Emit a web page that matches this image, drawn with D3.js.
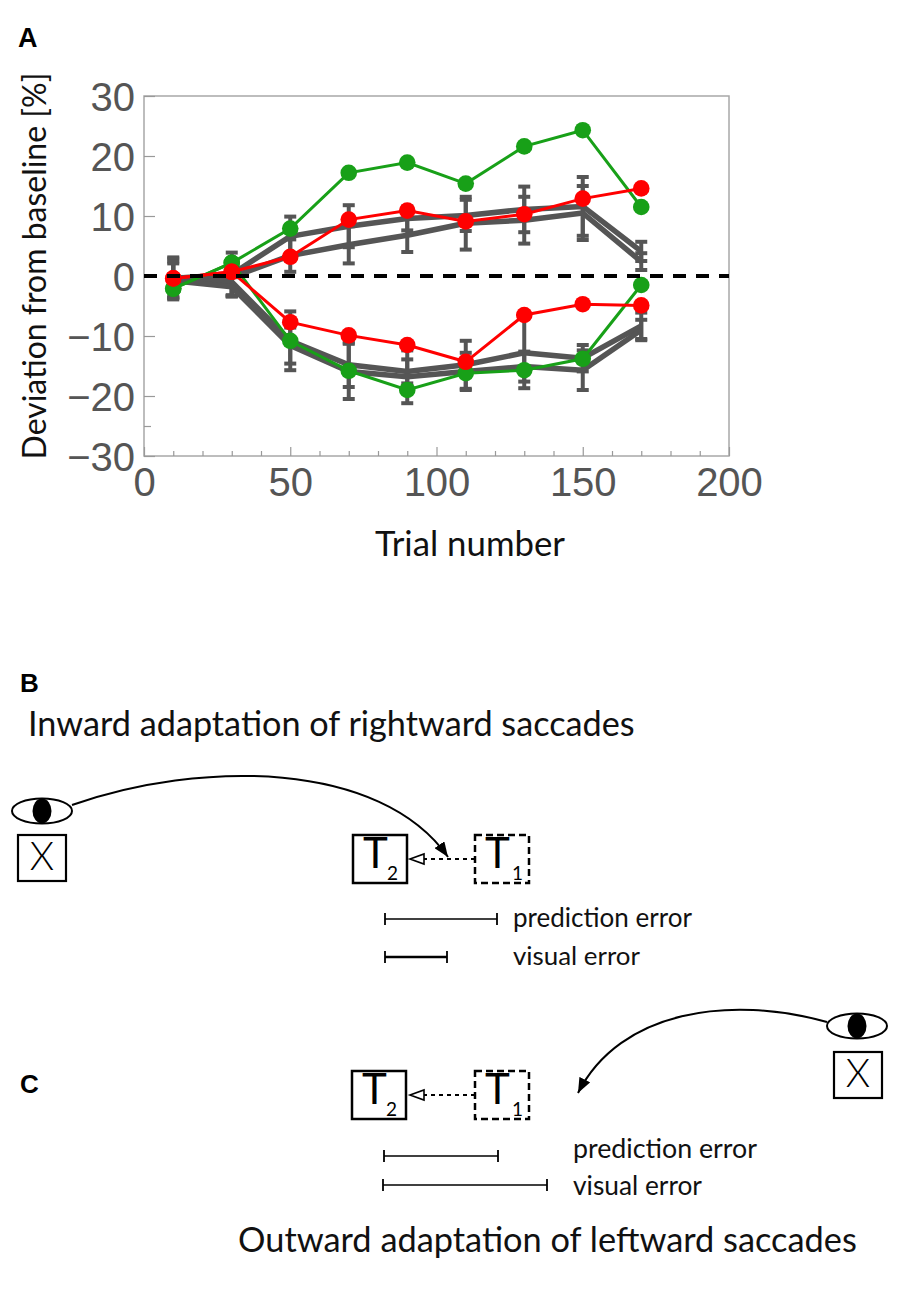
<!DOCTYPE html>
<html>
<head>
<meta charset="utf-8">
<script src="https://d3js.org/d3.v7.min.js"></script>
<style>
  body { margin: 0; background: #fff; }
</style>
</head>
<body>
<script>
    // trial bins (x) and the six curves
    let trials = [10, 30, 50, 70, 90, 110, 130, 150, 170];

    let greenUp   = [-2.1, 2.2, 7.9, 17.2, 18.9, 15.4, 21.6, 24.3, 11.5];
    let greenDown = [-2.1, 2.2, -10.8, -15.8, -19.0, -16.2, -15.7, -13.8, -1.5];
    let redUp     = [-0.4, 0.7, 3.2, 9.4, 10.9, 9.1, 10.3, 12.9, 14.6];
    let redDown   = [-0.4, 0.7, -7.7, -9.9, -11.5, -14.3, -6.5, -4.7, -4.9];

    // gray model curves with their error bars
    let grayUpA      = [-0.4, 0.3, 6.6, 8.3, 9.6, 10.1, 11.1, 11.6, 4.1];
    let grayUpAErr   = [3.5, 3.6, 3.3, 3.5, 2.0, 2.6, 3.8, 4.9, 1.6];
    let grayUpB      = [-0.3, -0.2, 3.4, 5.2, 6.8, 8.8, 9.3, 10.5, 2.4];
    let grayUpBErr   = [3.2, 3.0, 2.7, 3.1, 2.8, 4.4, 3.9, 4.5, 1.4];
    let grayDownA    = [-0.6, -1.0, -10.8, -14.8, -15.9, -14.8, -12.8, -13.7, -8.3];
    let grayDownAErr = [3.0, 2.4, 4.9, 3.7, 2.0, 4.0, 5.9, 2.2, 2.2];
    let grayDownB    = [-0.8, -1.8, -11.6, -15.9, -16.8, -15.9, -15.1, -15.7, -9.0];
    let grayDownBErr = [2.9, 1.6, 3.0, 4.6, 4.4, 3.1, 2.5, 3.3, 1.7];

    let xTicks = [0, 50, 100, 150, 200];
    let xMinor = [10, 20, 30, 40, 60, 70, 80, 90, 110, 120, 130, 140, 160, 170, 180, 190];
    let yTicks = [-30, -20, -10, 0, 10, 20, 30];
    let yMinor = [-25];

    let width = 901, height = 1300;
    let svg = d3.select("body").append("svg")
        .attr("width", width)
        .attr("height", height);

    let humanist = "Lato, 'Open Sans', sans-serif";

    function fitWidth(sel, w) {
        let len = sel.node().getComputedTextLength();
        let fs = parseFloat(sel.attr("font-size"));
        sel.attr("font-size", fs * w / len);
    }

    // ---------- panel A ----------
    let x = d3.scaleLinear().domain([0, 200]).range([144, 729]);
    let y = d3.scaleLinear().domain([-30, 30]).range([456, 96]);

    svg.append("text").attr("x", 18).attr("y", 47)
        .attr("font-family", "'Liberation Sans', Arial, sans-serif")
        .attr("font-weight", "bold").attr("font-size", 27).text("A");

    svg.append("rect")
        .attr("x", x(0)).attr("y", y(30))
        .attr("width", x(200) - x(0)).attr("height", y(-30) - y(30))
        .attr("fill", "none").attr("stroke", "#a8a8a8").attr("stroke-width", 1.5);

    let tickFmt = d => d < 0 ? "\u2212" + Math.abs(d) : String(d);

    let xAxis = svg.append("g").attr("transform", `translate(0,${y(-30)})`)
        .call(d3.axisBottom(x).tickValues(xTicks).tickSize(-9).tickPadding(12).tickFormat(tickFmt));
    let xAxisMinor = svg.append("g").attr("transform", `translate(0,${y(-30)})`)
        .call(d3.axisBottom(x).tickValues(xMinor).tickSize(-5).tickFormat(""));
    let yAxis = svg.append("g").attr("transform", `translate(${x(0)},0)`)
        .call(d3.axisLeft(y).tickValues(yTicks).tickSize(-11).tickPadding(9).tickFormat(tickFmt));
    let yAxisMinor = svg.append("g").attr("transform", `translate(${x(0)},0)`)
        .call(d3.axisLeft(y).tickValues(yMinor).tickSize(-7).tickFormat(""));

    [xAxis, xAxisMinor, yAxis, yAxisMinor].forEach(g => {
        g.select(".domain").remove();
        g.selectAll(".tick line").attr("stroke", "#999").attr("stroke-width", 1.2);
        g.selectAll(".tick text")
            .attr("font-family", "'Liberation Sans', Arial, sans-serif")
            .attr("font-size", 40).attr("fill", "#555");
    });
    yAxis.selectAll(".tick text").attr("dy", "0.36em");

    let yTitle = svg.append("text")
        .attr("transform", "translate(46,266) rotate(-90)")
        .attr("text-anchor", "middle")
        .attr("font-family", humanist).attr("font-size", 32).attr("fill", "#111")
        .text("Deviation from baseline [%]");
    fitWidth(yTitle, 387);

    let xTitle = svg.append("text")
        .attr("x", 470).attr("y", 556)
        .attr("text-anchor", "middle")
        .attr("font-family", humanist).attr("font-size", 32).attr("fill", "#111")
        .text("Trial number");
    fitWidth(xTitle, 190);

    let line = d3.line().x((d, i) => x(trials[i])).y(d => y(d));

    // gray curves with error bars
    let grays = [
        [grayUpA, grayUpAErr], [grayUpB, grayUpBErr],
        [grayDownA, grayDownAErr], [grayDownB, grayDownBErr]
    ];
    let gray = "#555555";
    grays.forEach(([vals, errs]) => {
        let g = svg.append("g");
        vals.forEach((v, i) => {
            let cx = x(trials[i]);
            g.append("line")
                .attr("x1", cx).attr("x2", cx)
                .attr("y1", y(v - errs[i])).attr("y2", y(v + errs[i]))
                .attr("stroke", gray).attr("stroke-width", 4);
            [v - errs[i], v + errs[i]].forEach(e => {
                g.append("line")
                    .attr("x1", cx - 6).attr("x2", cx + 6)
                    .attr("y1", y(e)).attr("y2", y(e))
                    .attr("stroke", gray).attr("stroke-width", 4);
            });
        });
    });
    grays.forEach(([vals]) => {
        svg.append("path").datum(vals)
            .attr("d", line)
            .attr("fill", "none").attr("stroke", gray)
            .attr("stroke-width", 5.5).attr("stroke-linejoin", "round");
    });

    // green then red, each line with round markers
    let colored = [
        [greenUp, "#18a018"], [greenDown, "#18a018"],
        [redUp, "#ff0000"], [redDown, "#ff0000"]
    ];
    colored.forEach(([vals, col]) => {
        svg.append("path").datum(vals)
            .attr("d", line)
            .attr("fill", "none").attr("stroke", col)
            .attr("stroke-width", 3);
        svg.append("g").selectAll("circle")
            .data(vals)
            .join("circle")
            .attr("cx", (d, i) => x(trials[i]))
            .attr("cy", d => y(d))
            .attr("r", 8.3)
            .attr("fill", col);
    });

    // baseline
    svg.append("line")
        .attr("x1", x(0)).attr("x2", x(200))
        .attr("y1", y(0)).attr("y2", y(0))
        .attr("stroke", "#000").attr("stroke-width", 4)
        .attr("stroke-dasharray", "13,10");

    // ---------- panels B and C (schematics) ----------
    let defs = svg.append("defs");
    defs.append("marker")
        .attr("id", "solidHead")
        .attr("markerUnits", "userSpaceOnUse")
        .attr("markerWidth", 16).attr("markerHeight", 12)
        .attr("refX", 15).attr("refY", 6)
        .attr("orient", "auto")
        .append("path").attr("d", "M0,0 L15,6 L0,12 Z").attr("fill", "#000");

    function eye(cx, cy) {
        svg.append("ellipse").attr("cx", cx).attr("cy", cy).attr("rx", 30).attr("ry", 12.5)
            .attr("fill", "#fff").attr("stroke", "#000").attr("stroke-width", 2);
        svg.append("ellipse").attr("cx", cx).attr("cy", cy).attr("rx", 9.5).attr("ry", 12.5)
            .attr("fill", "#000");
    }

    function xBox(bx, by) {
        svg.append("rect").attr("x", bx).attr("y", by).attr("width", 48).attr("height", 46)
            .attr("fill", "#fff").attr("stroke", "#000").attr("stroke-width", 2.2);
        svg.append("text").attr("x", bx + 24).attr("y", by + 35)
            .attr("text-anchor", "middle")
            .attr("font-family", humanist).attr("font-weight", 300)
            .attr("font-size", 39).attr("fill", "#000").text("X");
    }

    function tBox(bx, by, sub, dashed) {
        svg.append("rect").attr("x", bx).attr("y", by).attr("width", 54).attr("height", 48)
            .attr("fill", "none").attr("stroke", "#000").attr("stroke-width", 2.5)
            .attr("stroke-dasharray", dashed ? "7,4" : null);
        svg.append("text").attr("x", bx + 10).attr("y", by + 33)
            .attr("font-family", humanist).attr("font-weight", 400)
            .attr("font-size", 42).attr("fill", "#000").text("T");
        svg.append("text").attr("x", bx + (dashed ? 37 : 34)).attr("y", by + 45)
            .attr("font-family", humanist).attr("font-weight", 400)
            .attr("font-size", 19).attr("fill", "#000").text(sub);
    }

    function shiftArrow(cy) {
        svg.append("line").attr("x1", 475).attr("x2", 424).attr("y1", cy).attr("y2", cy)
            .attr("stroke", "#000").attr("stroke-width", 2).attr("stroke-dasharray", "4,4");
        svg.append("path").attr("d", `M410,${cy} L424,${cy - 5} L424,${cy + 5} Z`)
            .attr("fill", "#fff").attr("stroke", "#000").attr("stroke-width", 1.6);
    }

    function errBar(x1, x2, yy, sw) {
        let g = svg.append("g").attr("stroke", "#000").attr("stroke-width", sw);
        g.append("line").attr("x1", x1).attr("x2", x2).attr("y1", yy).attr("y2", yy);
        g.append("line").attr("x1", x1).attr("x2", x1).attr("y1", yy - 6).attr("y2", yy + 6).attr("stroke-width", 1.8);
        g.append("line").attr("x1", x2).attr("x2", x2).attr("y1", yy - 6).attr("y2", yy + 6).attr("stroke-width", 1.8);
    }

    function label(tx, ty, str, w, fs) {
        let t = svg.append("text").attr("x", tx).attr("y", ty)
            .attr("font-family", humanist).attr("font-size", fs).attr("fill", "#111").text(str);
        fitWidth(t, w);
        return t;
    }

    // panel B
    svg.append("text").attr("x", 20).attr("y", 692)
        .attr("font-family", "'Liberation Sans', Arial, sans-serif")
        .attr("font-weight", "bold").attr("font-size", 26).text("B");
    label(28, 736, "Inward adaptation of rightward saccades", 607, 30);

    svg.append("path")
        .attr("d", "M72,805 C200,760 380,760 448,857")
        .attr("fill", "none").attr("stroke", "#000").attr("stroke-width", 2)
        .attr("marker-end", "url(#solidHead)");
    eye(42, 811);
    xBox(18, 835);
    tBox(353, 835, "2", false);
    tBox(475, 835, "1", true);
    shiftArrow(859);
    errBar(385, 497, 919, 1.6);
    errBar(385, 447, 957, 2.6);
    label(513, 927, "prediction error", 179, 23);
    label(513, 965, "visual error", 127, 23);

    // panel C
    svg.append("text").attr("x", 20).attr("y", 1093)
        .attr("font-family", "'Liberation Sans', Arial, sans-serif")
        .attr("font-weight", "bold").attr("font-size", 26).text("C");

    svg.append("path")
        .attr("d", "M827,1022 C730,995 620,1010 578,1093")
        .attr("fill", "none").attr("stroke", "#000").attr("stroke-width", 2)
        .attr("marker-end", "url(#solidHead)");
    eye(857, 1026);
    xBox(834, 1052);
    tBox(352, 1071, "2", false);
    tBox(475, 1071, "1", true);
    shiftArrow(1095);
    errBar(384, 498, 1156, 1.6);
    errBar(383, 547, 1185, 1.6);
    label(573, 1158, "prediction error", 184, 23);
    label(573, 1195, "visual error", 129, 23);

    label(238, 1252, "Outward adaptation of leftward saccades", 619, 30);
</script>
</body>
</html>
